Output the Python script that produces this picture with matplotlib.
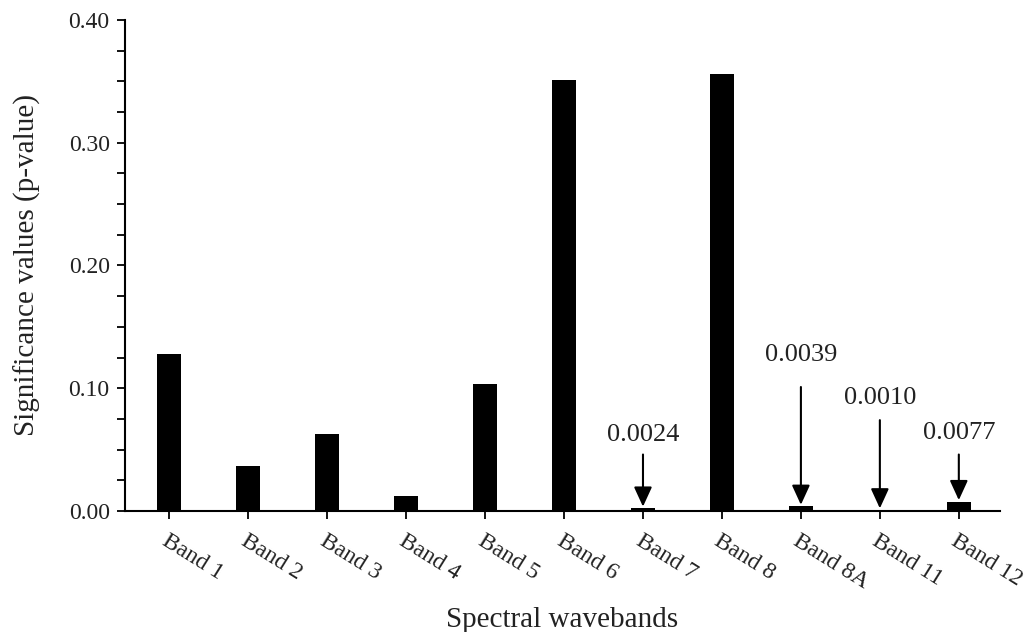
import matplotlib.pyplot as plt
import matplotlib
matplotlib.rcParams['font.family'] = ['Liberation Serif', 'DejaVu Serif']
matplotlib.rcParams['axes.unicode_minus'] = False

bands = ['Band 1', 'Band 2', 'Band 3', 'Band 4', 'Band 5', 'Band 6',
         'Band 7', 'Band 8', 'Band 8A', 'Band 11', 'Band 12']
pvalues = [0.128, 0.0365, 0.0625, 0.012, 0.1035, 0.351,
           0.0024, 0.356, 0.0039, 0.0010, 0.0077]

# small values that get an arrow + label
note_idx = [6, 8, 9, 10]
note_text = ['0.0024', '0.0039', '0.0010', '0.0077']
note_text_y = [0.062, 0.127, 0.092, 0.0635]
note_arrow_y = [0.046, 0.101, 0.074, 0.046]

fig = plt.figure(figsize=(10.34, 6.32), dpi=100)
ax = fig.add_axes([0.1209, 0.1915, 0.8461, 0.7769])

x = list(range(len(bands)))
ax.bar(x, pvalues, width=0.3, color='black')

for i, t, ty, ay in zip(note_idx, note_text, note_text_y, note_arrow_y):
    ax.text(i, ty, t, ha='center', va='center', fontsize=19, color='#222222')
    ax.annotate('', xy=(i, pvalues[i]), xytext=(i, ay),
                arrowprops=dict(arrowstyle='-|>,head_length=1.2,head_width=0.55',
                                mutation_scale=10, color='black', lw=1.5,
                                shrinkA=0, shrinkB=1))

ax.set_xlim(-0.56, 10.52)
ax.set_ylim(0, 0.40)
ax.set_yticks([0, 0.1, 0.2, 0.3, 0.4])
ax.set_yticklabels(['0.00', '0.10', '0.20', '0.30', '0.40'], fontsize=17,
                   color='#222222')
ax.set_yticks([0.025 * k for k in range(17)], minor=True)
ax.set_xticks(x)
ax.set_xticklabels(bands, rotation=-32, ha='left', va='top', fontsize=17,
                   rotation_mode='anchor', color='#222222')

ax.spines['top'].set_visible(False)
ax.spines['right'].set_visible(False)
ax.spines['left'].set_linewidth(1.5)
ax.spines['bottom'].set_linewidth(1.5)
ax.tick_params(axis='y', which='both', length=6, width=1.3, direction='out',
               pad=5)
ax.tick_params(axis='x', length=6, width=1.3, direction='out', pad=8)

ax.set_xlabel('Spectral wavebands', fontsize=21, labelpad=10, color='#222222')
ax.set_ylabel('Significance values (p-value)', fontsize=21, labelpad=20,
              color='#222222')

fig.savefig('out.png', dpi=100)
